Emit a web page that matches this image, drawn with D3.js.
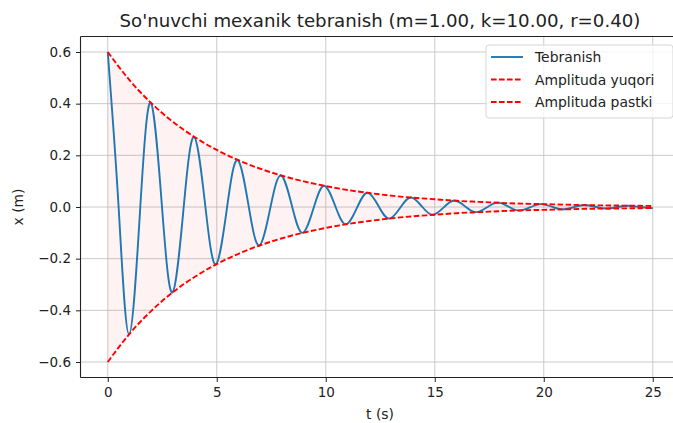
<!DOCTYPE html>
<html>
<head>
<meta charset="utf-8">
<script src="https://cdn.jsdelivr.net/npm/d3@7"></script>
<style>
  body { margin: 0; background: #fff; }
  svg { display: block; font-family: "DejaVu Sans", sans-serif; }
</style>
</head>
<body>
<div id="canvas"></div>
<script>
// oscillation: peaks/troughs and zero crossings
let oscT = [0, 0.498, 0.976, 1.493, 1.971, 2.489, 2.967, 3.484, 3.962, 4.480, 4.958, 5.475, 5.953, 6.471, 6.949,
  7.466, 7.944, 8.462, 8.940, 9.457, 9.935, 10.453, 10.93, 11.448, 11.93, 12.444, 12.92, 13.439, 13.92, 14.435,
  14.91, 15.430, 15.91, 16.426, 16.90, 17.421, 17.90, 18.417, 18.89, 19.412, 19.89, 20.408, 20.88, 21.403, 21.88,
  22.399, 22.87, 23.394, 23.87, 24.390, 24.87, 25];
let oscX = [0.600, 0, -0.493, 0, 0.404, 0, -0.331, 0, 0.271, 0, -0.222, 0, 0.182, 0, -0.149,
  0, 0.122, 0, -0.100, 0, 0.082, 0, -0.067, 0, 0.055, 0, -0.045, 0, 0.037, 0,
  -0.030, 0, 0.025, 0, -0.020, 0, 0.017, 0, -0.014, 0, 0.011, 0, -0.009, 0, 0.008,
  0, -0.006, 0, 0.005, 0, -0.004, -0.004];

// envelope
let envT = [0, 1, 2, 3, 4, 5, 6, 7, 8, 9, 10, 11, 12, 13, 14, 15, 16, 17, 18, 19, 20, 21, 22, 23, 24, 25];
let envUpper = [0.600, 0.491, 0.402, 0.329, 0.270, 0.221, 0.181, 0.148, 0.121, 0.099, 0.081, 0.066, 0.054,
  0.044, 0.036, 0.030, 0.024, 0.020, 0.016, 0.013, 0.011, 0.009, 0.007, 0.006, 0.005, 0.004];
let envLower = [-0.600, -0.491, -0.402, -0.329, -0.270, -0.221, -0.181, -0.148, -0.121, -0.099, -0.081, -0.066, -0.054,
  -0.044, -0.036, -0.030, -0.024, -0.020, -0.016, -0.013, -0.011, -0.009, -0.007, -0.006, -0.005, -0.004];

let xTicks = [0, 5, 10, 15, 20, 25];
let yTicks = [-0.6, -0.4, -0.2, 0.0, 0.2, 0.4, 0.6];
let legendNames = ["Tebranish", "Amplituda yuqori", "Amplituda pastki"];

window.onload = function() {
  let width = 673, height = 423;
  let svg = d3.select("#canvas").append("svg")
    .attr("width", width).attr("height", height);

  let x = d3.scaleLinear().domain([-1.25, 26.25]).range([80.5, 680]);
  let y = d3.scaleLinear().domain([-0.66, 0.66]).range([377.5, 36.5]);

  // grid
  let grid = svg.append("g").attr("stroke", "#c4c4c4").attr("stroke-width", 0.9);
  grid.selectAll("line.gx").data(xTicks).enter().append("line")
    .attr("x1", d => x(d)).attr("x2", d => x(d)).attr("y1", y(0.66)).attr("y2", y(-0.66));
  grid.selectAll("line.gy").data(yTicks).enter().append("line")
    .attr("x1", x(-1.25)).attr("x2", x(26.25)).attr("y1", d => y(d)).attr("y2", d => y(d));

  // envelope fill
  let envData = envT.map((t, i) => ({t: t, hi: envUpper[i], lo: envLower[i]}));
  svg.append("path").datum(envData)
    .attr("fill", "#ff0000").attr("fill-opacity", 0.05)
    .attr("d", d3.area().x(d => x(d.t)).y0(d => y(d.lo)).y1(d => y(d.hi)).curve(d3.curveNatural));

  // oscillation
  let oscData = oscT.map((t, i) => ({t: t, v: oscX[i]}));
  svg.append("path").datum(oscData)
    .attr("fill", "none").attr("stroke", "#1f77b4").attr("stroke-width", 1.9)
    .attr("d", d3.line().x(d => x(d.t)).y(d => y(d.v)).curve(d3.curveNatural));

  // envelopes dashed
  let envLine = d3.line().x(d => x(d.t)).y(d => y(d.v)).curve(d3.curveNatural);
  [envUpper, envLower].forEach(arr => {
    svg.append("path").datum(envT.map((t, i) => ({t: t, v: arr[i]})))
      .attr("fill", "none").attr("stroke", "#ff0000").attr("stroke-width", 1.9)
      .attr("stroke-dasharray", "5.6,2.4")
      .attr("d", envLine);
  });

  // axes
  let xAxis = svg.append("g").attr("transform", "translate(0," + y(-0.66) + ")")
    .call(d3.axisBottom(x).tickValues(xTicks).tickFormat(d3.format("d")).tickSize(4.5).tickPadding(5));
  let yAxis = svg.append("g").attr("transform", "translate(" + x(-1.25) + ",0)")
    .call(d3.axisLeft(y).tickValues(yTicks).tickFormat(d => d3.format(".1f")(d).replace("-", "\u2212")).tickSize(4.5).tickPadding(5));
  [xAxis, yAxis].forEach(a => {
    a.selectAll("text").attr("font-size", 13.5).attr("fill", "#222").attr("font-family", "DejaVu Sans");
    a.selectAll("line").attr("stroke", "#222").attr("stroke-width", 1);
    a.select(".domain").attr("stroke", "#222").attr("stroke-width", 1.1);
  });
  xAxis.select(".domain").attr("d", "M80.5,0H680");
  yAxis.select(".domain").attr("d", "M0,36.5V377.5");
  svg.append("line").attr("x1", x(-1.25)).attr("x2", x(26.25)).attr("y1", y(0.66)).attr("y2", y(0.66))
    .attr("stroke", "#222").attr("stroke-width", 1.1);

  // labels
  svg.append("text").attr("x", 380).attr("y", 26.5).attr("text-anchor", "middle")
    .attr("font-size", 18.2).attr("fill", "#222").text("So'nuvchi mexanik tebranish (m=1.00, k=10.00, r=0.40)");
  svg.append("text").attr("x", 380).attr("y", 419).attr("text-anchor", "middle")
    .attr("font-size", 13.9).attr("fill", "#222").text("t (s)");
  svg.append("text").attr("transform", "translate(23,207) rotate(-90)").attr("text-anchor", "middle")
    .attr("font-size", 13.9).attr("fill", "#222").text("x (m)");

  // legend
  let lg = svg.append("g");
  lg.append("rect").attr("x", 486).attr("y", 45).attr("width", 187).attr("height", 73).attr("rx", 3)
    .attr("fill", "#fff").attr("fill-opacity", 0.8).attr("stroke", "#d6d6d6");
  let rows = lg.selectAll("g.row").data(legendNames).enter().append("g")
    .attr("transform", (d, i) => "translate(0," + (57 + i * 22.5) + ")");
  rows.append("line").attr("x1", 491).attr("x2", 523).attr("y1", 0).attr("y2", 0)
    .attr("stroke", (d, i) => i === 0 ? "#1f77b4" : "#ff0000").attr("stroke-width", 1.9)
    .attr("stroke-dasharray", (d, i) => i === 0 ? null : "5.6,2.4");
  rows.append("text").attr("x", 535).attr("y", 5).attr("font-size", 13.9).attr("fill", "#222").text(d => d);
};
</script>
</body>
</html>
